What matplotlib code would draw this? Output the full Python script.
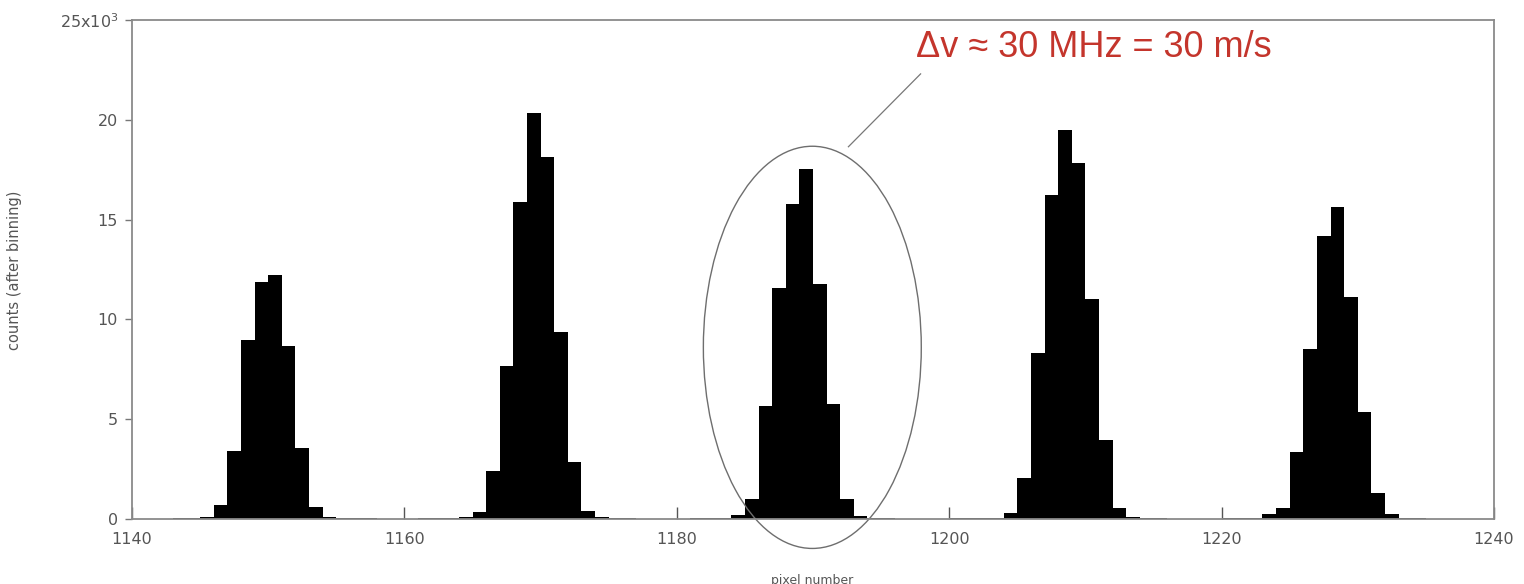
import matplotlib
matplotlib.use("Agg")
import matplotlib.pyplot as plt
from matplotlib.patches import Ellipse
from matplotlib.ticker import FixedLocator

# ---- data (bin start = pixel number, bin width = 1) ----
bin_start = list(range(1140, 1240))
counts = [
    20, 20, 20, 30, 40, 120, 700, 3400, 8950, 11870,          # 1140-1149
    12230, 8650, 3570, 600, 120, 40, 30, 30, 20, 20,          # 1150-1159
    20, 30, 30, 40, 80, 370, 2420, 7670, 15870, 20320,        # 1160-1169
    18150, 9370, 2870, 420, 100, 40, 30, 20, 20, 20,          # 1170-1179
    20, 30, 40, 60, 200, 1000, 5650, 11580, 15780, 17530,     # 1180-1189
    11780, 5750, 980, 150, 50, 30, 20, 20, 20, 20,            # 1190-1199
    30, 30, 40, 60, 320, 2030, 8320, 16230, 19500, 17830,     # 1200-1209
    11030, 3980, 530, 100, 40, 30, 20, 20, 20, 20,            # 1210-1219
    30, 30, 60, 230, 570, 3370, 8530, 14170, 15650, 11120,    # 1220-1229
    5370, 1280, 250, 60, 30, 20, 20, 20, 20, 20,              # 1230-1239
]
x_ticks = [1140, 1160, 1180, 1200, 1220, 1240]
y_ticks = [0, 5000, 10000, 15000, 20000, 25000]
y_tick_labels = ["0", "5", "10", "15", "20", "25x10$^3$"]
annotation_text = "\u0394v \u2248 30 MHz = 30 m/s"

# ---- figure ----
fig = plt.figure(figsize=(15.24, 5.84), dpi=100)
ax = fig.add_axes([132 / 1524, 1 - 519 / 584, (1494 - 132) / 1524, (519 - 20) / 584])

edges = bin_start + [bin_start[-1] + 1]
ax.stairs(counts, edges, fill=True, color="black", linewidth=0)

ax.set_xlim(1140, 1240)
ax.set_ylim(0, 25000)

grey = "#555555"
for s in ax.spines.values():
    s.set_color("#8a8a8a")
    s.set_linewidth(1.3)

ax.xaxis.set_major_locator(FixedLocator(x_ticks))
ax.yaxis.set_major_locator(FixedLocator(y_ticks))
ax.set_yticklabels(y_tick_labels)
ax.tick_params(axis="x", direction="in", length=9, width=1, color="#555555",
               labelsize=11.5, labelcolor=grey, pad=9)
ax.tick_params(axis="y", direction="out", length=5, width=1, color="#777777",
               labelsize=11.5, labelcolor=grey, pad=5)

ax.set_xlabel("pixel number", fontsize=9, color=grey)
ax.xaxis.set_label_coords((812 - 132) / 1362, (519 - 574) / 499)
ax.set_ylabel("counts (after binning)", fontsize=10.5, color=grey)
ax.yaxis.set_label_coords((22 - 132) / 1362, (519 - 270) / 499)

# ellipse around middle peak
ell = Ellipse((1189.95, 8600), width=16.0, height=20150, fill=False,
              edgecolor="#6e6e6e", linewidth=1.0, clip_on=False)
ax.add_patch(ell)
ax.plot([1192.6, 1197.9], [18650, 22300], color="#777777", linewidth=0.9)

ax.text(1210.6, 23600, annotation_text, color="#c4352c", fontsize=26,
        family="Liberation Sans", ha="center", va="center")

fig.savefig("out.png", dpi=100)
